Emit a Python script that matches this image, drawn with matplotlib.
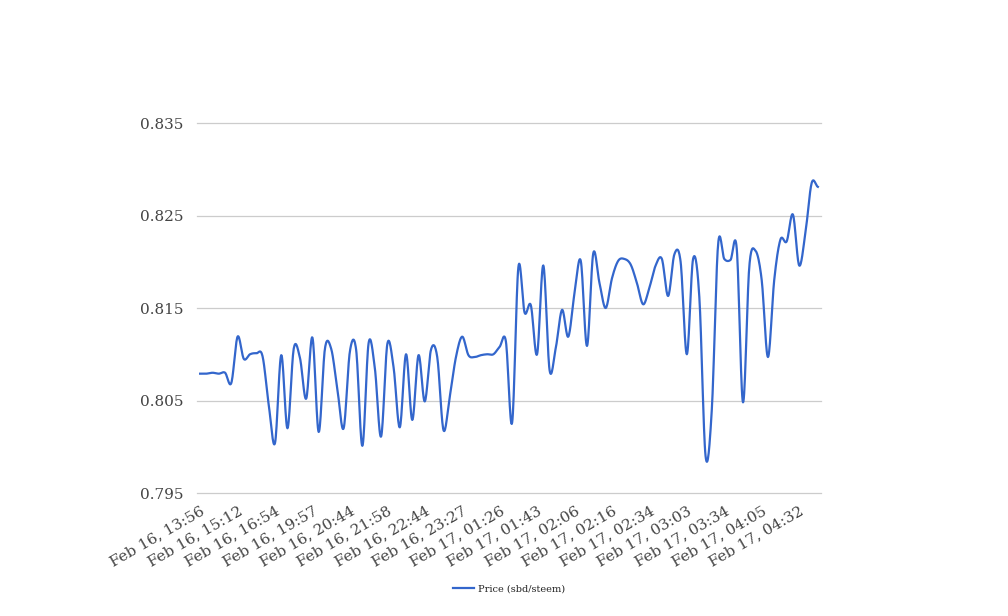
import matplotlib
matplotlib.use("Agg")
import matplotlib.pyplot as plt
import numpy as np

# price samples, one per reading (100 readings)
prices = [
    0.8079, 0.8079, 0.8080, 0.8079, 0.8080, 0.8069, 0.8119, 0.8095, 0.8100, 0.8101,
    0.8098, 0.8045, 0.8004, 0.8099, 0.8020, 0.8106, 0.8096, 0.8052, 0.8118, 0.8016,
    0.8106, 0.8106, 0.8062, 0.8020, 0.8103, 0.8105, 0.8001, 0.8112, 0.8085, 0.8011,
    0.8111, 0.8086, 0.8021, 0.8100, 0.8029, 0.8099, 0.8049, 0.8105, 0.8097, 0.8018,
    0.8054, 0.8097, 0.8119, 0.8099, 0.8097, 0.8099, 0.8100, 0.8100, 0.8108, 0.8114,
    0.8026, 0.8194, 0.8145, 0.8153, 0.8100, 0.8196, 0.8083, 0.8107, 0.8148, 0.8119,
    0.8166, 0.8201, 0.8109, 0.8209, 0.8177, 0.8150, 0.8182, 0.8201, 0.8203, 0.8197,
    0.8177, 0.8154, 0.8172, 0.8196, 0.8203, 0.8163, 0.8208, 0.8200, 0.8100, 0.8203,
    0.8162, 0.7990, 0.8040, 0.8218, 0.8203, 0.8202, 0.8214, 0.8048, 0.8194, 0.8212,
    0.8180, 0.8097, 0.8180, 0.8224, 0.8222, 0.8251, 0.8196, 0.8231, 0.8285, 0.8281,
]

tick_labels = [
    "Feb 16, 13:56", "Feb 16, 15:12", "Feb 16, 16:54", "Feb 16, 19:57",
    "Feb 16, 20:44", "Feb 16, 21:58", "Feb 16, 22:44", "Feb 16, 23:27",
    "Feb 17, 01:26", "Feb 17, 01:43", "Feb 17, 02:06", "Feb 17, 02:16",
    "Feb 17, 02:34", "Feb 17, 03:03", "Feb 17, 03:34", "Feb 17, 04:05",
    "Feb 17, 04:32",
]
label_every = 6

y_ticks = [0.795, 0.805, 0.815, 0.825, 0.835]


def smooth(xs, ys, n=16):
    # catmull-rom through every point, like the chart's curved line
    xs = np.asarray(xs, float)
    ys = np.asarray(ys, float)
    px = np.concatenate([[2 * xs[0] - xs[1]], xs, [2 * xs[-1] - xs[-2]]])
    py = np.concatenate([[ys[0]], ys, [ys[-1]]])
    out_x, out_y = [], []
    t = np.linspace(0, 1, n, endpoint=False)
    for k in range(1, len(px) - 2):
        p0, p1, p2, p3 = py[k - 1], py[k], py[k + 1], py[k + 2]
        m1 = (p2 - p0) / 2
        m2 = (p3 - p1) / 2
        h00 = 2 * t**3 - 3 * t**2 + 1
        h10 = t**3 - 2 * t**2 + t
        h01 = -2 * t**3 + 3 * t**2
        h11 = t**3 - t**2
        out_y.append(h00 * p1 + h10 * m1 + h01 * p2 + h11 * m2)
        out_x.append(px[k] + t * (px[k + 1] - px[k]))
    out_x.append([xs[-1]])
    out_y.append([ys[-1]])
    return np.concatenate(out_x), np.concatenate(out_y)


plt.rcParams["font.family"] = "DejaVu Serif"

fig = plt.figure(figsize=(10.08, 6.16), dpi=100)
ax = fig.add_axes([197 / 1008, 1 - 493 / 616, 624 / 1008, 370 / 616])

idx = np.arange(len(prices))
sx, sy = smooth(idx, prices)
line, = ax.plot(sx, sy, color="#3366cc", linewidth=1.6, label="Price (sbd/steem)")

ax.set_xlim(-0.5, len(prices) - 0.5)
ax.set_ylim(y_ticks[0], y_ticks[-1])
ax.set_yticks(y_ticks)
ax.set_yticklabels(["%.3f" % v for v in y_ticks])
ax.grid(axis="y", color="#cccccc", linewidth=0.9)
ax.set_axisbelow(True)
for gl in ax.get_ygridlines():
    gl.set_clip_on(False)

tick_pos = list(range(0, len(prices), label_every))[:len(tick_labels)]
ax.set_xticks(tick_pos)
ax.set_xticklabels(tick_labels, rotation=30, ha="right", rotation_mode="anchor")

for s in ax.spines.values():
    s.set_visible(False)
ax.tick_params(axis="both", length=0, colors="#444444", labelsize=11)
ax.tick_params(axis="y", pad=10)
ax.tick_params(axis="x", pad=8)

fig.legend(handles=[line], loc="center", bbox_to_anchor=(0.505, 1 - 589 / 616),
           frameon=False, fontsize=7, handlelength=2.2, handletextpad=0.4,
           labelcolor="#222222")

fig.savefig("out.png", dpi=100, facecolor="white")
